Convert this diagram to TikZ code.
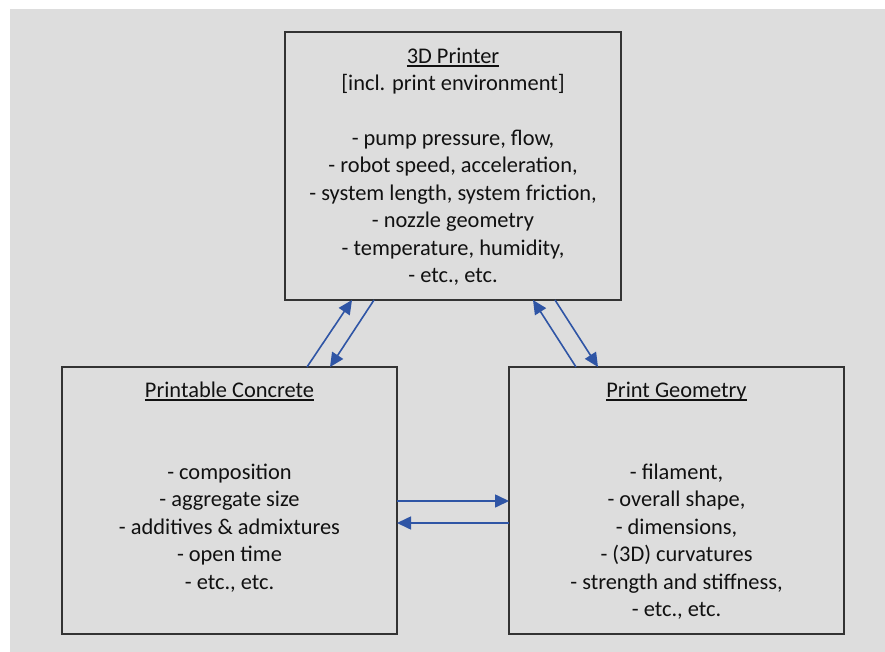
\documentclass[tikz,border=0pt]{standalone}
\usepackage{fontspec}
\setmainfont{Carlito}
\usetikzlibrary{arrows.meta}
\definecolor{bg}{HTML}{DDDDDD}
\definecolor{arrowblue}{HTML}{2F55A5}
\definecolor{ink}{HTML}{111111}
\newcommand{\ulhead}[1]{\setbox0\hbox{#1}\rlap{\rule[-3.5pt]{\wd0}{1.8pt}}\box0}
\begin{document}
\begin{tikzpicture}[x=1pt,y=-1pt,
  box/.style={draw=black!80, line width=1.4pt, inner sep=0pt, outer sep=0pt, anchor=north west},
  txt/.style={font=\fontsize{22.4}{27.4}\selectfont, text=ink, align=center, inner sep=0pt, anchor=north},
  arr/.style={draw=arrowblue, line width=1.6pt, -{Triangle[length=14pt,width=13pt]}}
]
\useasboundingbox (0,0) rectangle (885,652);
\fill[white] (0,0) rectangle (885,652);
\fill[bg] (10,9) rectangle (885,652);

\node[box, minimum width=336pt, minimum height=268pt] (printer) at (285,32) {};
\node[box, minimum width=335pt, minimum height=267pt] (concrete) at (62,367) {};
\node[box, minimum width=335pt, minimum height=267pt] (geometry) at (509,367) {};

\node[txt] (printertext) at (453,45) {\rule{0pt}{18pt}\ulhead{3D Printer}\\
{[}incl. print environment{]}\\ ~\\
- pump pressure, flow,\\
- robot speed, acceleration,\\
- system length, system friction,\\
- nozzle geometry\\
- temperature, humidity,\\
- etc., etc.};

\node[txt] (concretetext) at (229.5,379) {\rule{0pt}{18pt}\ulhead{Printable Concrete}\\ ~\\ ~\\
- composition\\
- aggregate size\\
- additives \& admixtures\\
- open time\\
- etc., etc.};

\node[txt] (geometrytext) at (676.5,379) {\rule{0pt}{18pt}\ulhead{Print Geometry}\\ ~\\ ~\\
- filament,\\
- overall shape,\\
- dimensions,\\
- (3D) curvatures\\
- strength and stiffness,\\
- etc., etc.};

\draw[arr] (concrete.north -| 307,0) -- (printer.south -| 352,0);
\draw[arr] (printer.south -| 374,0) -- (concrete.north -| 330,0);
\draw[arr] (geometry.north -| 576,0) -- (printer.south -| 533,0);
\draw[arr] (printer.south -| 555,0) -- (geometry.north -| 598,0);
\draw[arr] (concrete.east |- 0,501) -- (geometry.west |- 0,501);
\draw[arr] (geometry.west |- 0,523) -- (concrete.east |- 0,523);
\end{tikzpicture}
\end{document}
